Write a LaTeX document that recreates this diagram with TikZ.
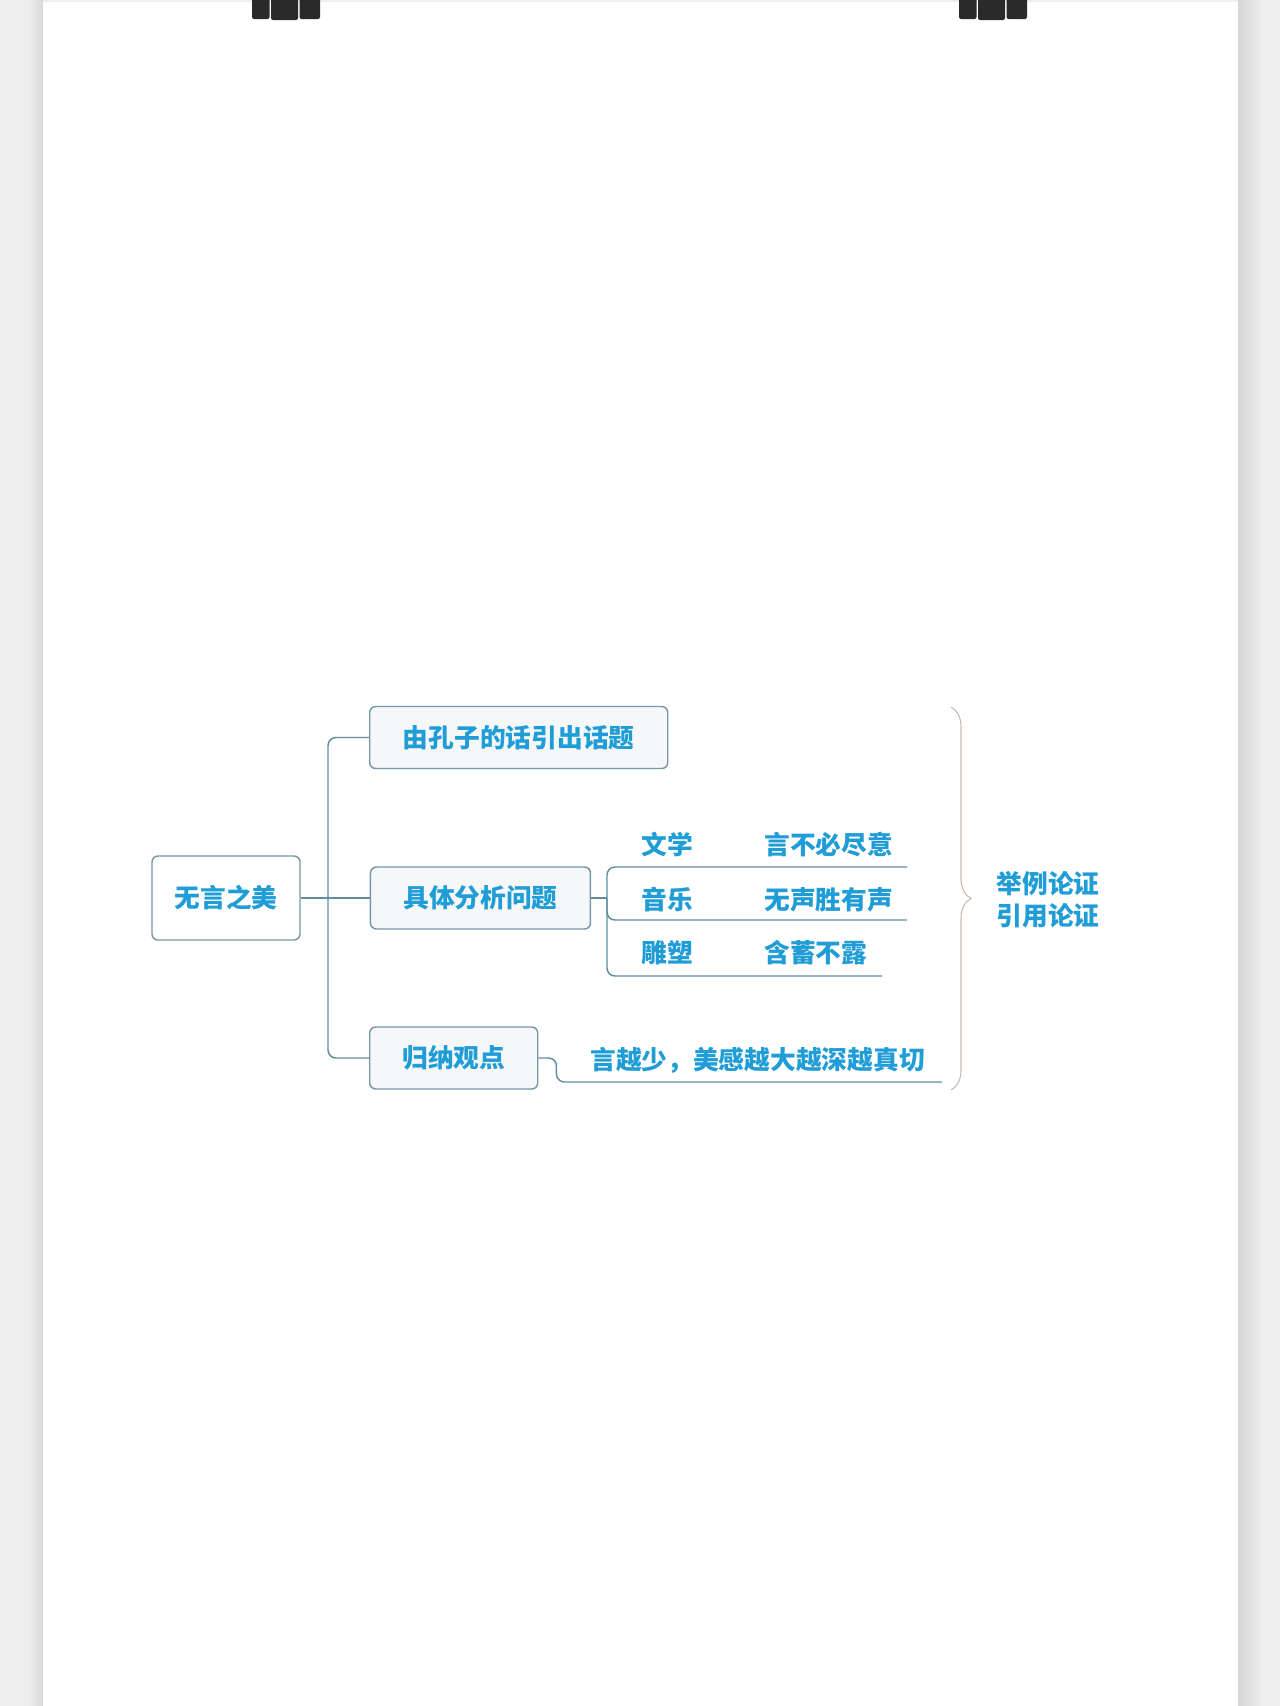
\documentclass[tikz,border=0pt]{standalone}
\usepackage{fontspec}
\newfontfamily\cjk{Noto Sans CJK SC}
\usetikzlibrary{positioning,decorations.pathreplacing}
\definecolor{ink}{RGB}{32,157,214}
\definecolor{wire}{RGB}{96,142,160}
\definecolor{boxline}{RGB}{118,152,168}
\definecolor{boxfill}{RGB}{245,247,249}
\definecolor{bracecol}{RGB}{200,186,178}
\definecolor{desk}{RGB}{238,238,238}
\definecolor{clipcol}{RGB}{42,42,42}

\begin{document}
\begin{tikzpicture}[x=0.75pt,y=-0.75pt,
    every node/.style={font=\cjk\bfseries\fontsize{19.3pt}{24pt}\selectfont, text=ink, inner sep=0pt},
    topic/.style={draw=boxline, fill=boxfill, line width=1.1pt, rounded corners=4.5pt, minimum height=46.5pt},
    link/.style={draw=wire, line width=1.1pt, rounded corners=6pt},
    brace/.style={draw=bracecol, line width=0.8pt, decorate, decoration={brace, amplitude=15pt}},
    node distance=51.75pt]
            \useasboundingbox (0,0) rectangle (1280,1706);
            % the sheet and its clips
            \fill[desk] (0,0) rectangle (1280,1706);
            \shade[left color=desk, right color=black!15] (28,0) rectangle (43,1706);
            \shade[left color=black!16, right color=desk] (1238,0) rectangle (1262,1706);
            \fill[white] (43,2) rectangle (1238,1706);
            \foreach \cx in {252,959} {
                \fill[clipcol, rounded corners=1.5pt] (\cx,-6) rectangle ({\cx+17.5},19);
                \fill[clipcol, rounded corners=1.5pt] ({\cx+19},-6) rectangle ({\cx+46},20);
                \fill[clipcol, rounded corners=1.5pt] ({\cx+47.5},-6) rectangle ({\cx+68},19);
            }

            \node[topic, fill=white, minimum width=111pt, minimum height=63pt] (root) at (226,898) {无言之美};
            \node[topic, minimum width=165pt] (detail) [right=of root] {具体分析问题};
            \node[topic, minimum width=223.5pt, anchor=west] (intro) at (369,737.5) {由孔子的话引出话题};
            \node[topic, minimum width=126pt, anchor=west] (sum) at (369,1058) {归纳观点};

            \node (lit) at (667,845) {文学};
            \node[anchor=west] (litnote) at (764,845) {言不必尽意};
            \node (mus) at (667,900) {音乐};
            \node[anchor=west] (musnote) at (764,900) {无声胜有声};
            \node (sculp) at (667,953) {雕塑};
            \node[anchor=west] (sculpnote) at (764,953) {含蓄不露};
            \node[anchor=west] (gist) at (590,1060) {言越少，美感越大越深越真切};
            \node[align=center] (proof) at (1048,900) {举例论证\\引用论证};

            \coordinate (hub) at (328,898);
            \coordinate (fork) at (607,898);
            \coordinate (rowA) at (907,867);
            \coordinate (rowB) at (907,920);
            \coordinate (rowC) at (882,976);
            \coordinate (rowD) at (942,1082);
            \coordinate (capT) at (951,707);
            \coordinate (capB) at (951,1090);

            \draw[link] (root.east) -- (hub);
            \draw[link] (hub) |- (intro.west);
            \draw[link] (hub) -- (detail.west);
            \draw[link] (hub) |- (sum.west);
            \draw[link] (detail.east) -- (fork);
            \draw[link] (fork) |- (rowA);
            \draw[link] (fork) |- (rowB);
            \draw[link] (fork) |- (rowC);
            \draw[link] (sum.east) -- ++(18,0) |- (rowD);
            \draw[brace] (capT) -- (capB);
\end{tikzpicture}
\end{document}
